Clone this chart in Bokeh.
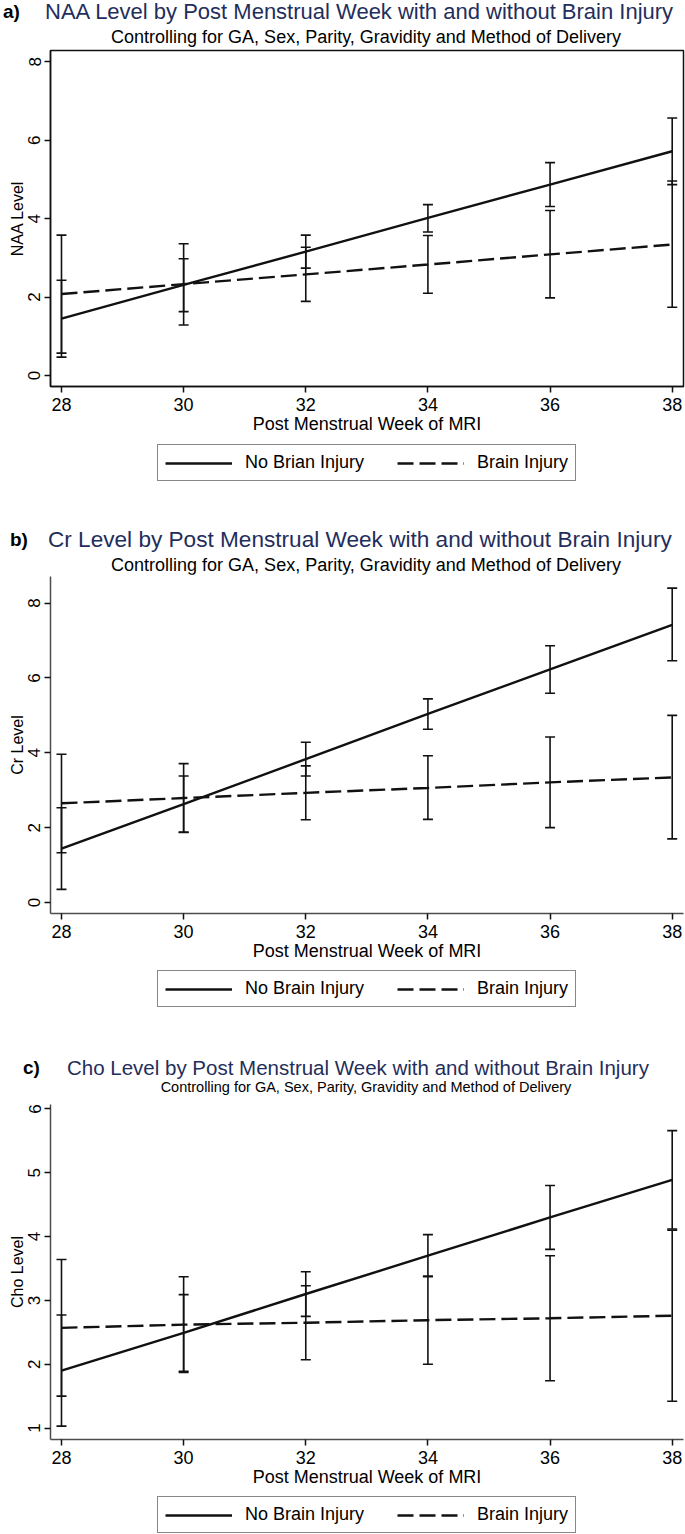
import math
from bokeh.plotting import figure
from bokeh.models import (ColumnDataSource, Whisker, TeeHead, Legend, LegendItem,
                          FixedTicker, Range1d, Div)
from bokeh.layouts import column
from bokeh.embed import file_html
from bokeh.resources import INLINE

# ---------------- data ----------------
weeks = [28, 30, 32, 34, 36, 38]
xticks = [28, 30, 32, 34, 36, 38]

# a) NAA
naa_no_mean = [1.45, 2.31, 3.16, 4.02, 4.87, 5.72]
naa_no_lo = [0.47, 1.63, 2.74, 3.66, 4.31, 4.87]
naa_no_hi = [2.43, 2.98, 3.58, 4.36, 5.43, 6.57]
naa_bi_mean = [2.08, 2.33, 2.58, 2.83, 3.09, 3.34]
naa_bi_lo = [0.57, 1.29, 1.89, 2.10, 1.98, 1.74]
naa_bi_hi = [3.58, 3.36, 3.27, 3.57, 4.21, 4.96]
naa_yticks = [0, 2, 4, 6, 8]

# b) Cr
cr_no_mean = [1.44, 2.63, 3.83, 5.04, 6.23, 7.42]
cr_no_lo = [0.35, 1.88, 3.38, 4.63, 5.59, 6.46]
cr_no_hi = [2.53, 3.38, 4.28, 5.44, 6.86, 8.40]
cr_bi_mean = [2.65, 2.79, 2.93, 3.06, 3.21, 3.34]
cr_bi_lo = [1.33, 1.87, 2.21, 2.22, 2.00, 1.70]
cr_bi_hi = [3.96, 3.71, 3.65, 3.92, 4.42, 5.00]
cr_yticks = [0, 2, 4, 6, 8]

# c) Cho
cho_no_mean = [1.90, 2.49, 3.10, 3.70, 4.30, 4.89]
cho_no_lo = [1.03, 1.89, 2.75, 3.37, 3.80, 4.12]
cho_no_hi = [2.77, 3.09, 3.45, 4.03, 4.80, 5.66]
cho_bi_mean = [2.57, 2.62, 2.65, 2.69, 2.72, 2.76]
cho_bi_lo = [1.50, 1.87, 2.07, 2.00, 1.74, 1.42]
cho_bi_hi = [3.64, 3.37, 3.23, 3.38, 3.70, 4.10]
cho_yticks = [1, 2, 3, 4, 5, 6]

subtitle_text = "Controlling for GA, Sex, Parity, Gravidity and Method of Delivery"
xlabel_text = "Post Menstrual Week of MRI"
legend_bi = "Brain Injury"

FONT = "Liberation Sans"
NAVY = "#1f2e5c"
INK = "#111111"
DASH = "16 6"
W = 685


def title_div(cfg):
    h = cfg["t_height"]
    ty = cfg["title_y"]
    sy = cfg["subtitle_y"]
    html = (
        f'<div style="position:relative;width:{W}px;height:{h}px;margin:0;padding:0;'
        f"font-family:'Liberation Sans',Arial,sans-serif;white-space:nowrap;\">"
        f'<span style="position:absolute;left:{cfg["letter_x"]}px;top:{ty - 12}px;'
        f'line-height:24px;font-size:19px;font-weight:bold;color:#000;">{cfg["letter"]}</span>'
        f'<span style="position:absolute;left:{cfg["title_x"]}px;top:{ty - 12}px;'
        f'line-height:24px;font-size:{cfg["title_size"]}px;color:{NAVY};">{cfg["title"]}</span>'
        f'<span style="position:absolute;left:16px;width:700px;text-align:center;top:{sy - 11}px;'
        f'line-height:22px;font-size:{cfg["subtitle_size"]}px;color:#000;">{subtitle_text}</span>'
        f'</div>'
    )
    return Div(text=html, width=W, height=h, margin=0)


def plot_fig(cfg):
    top = cfg["p_top"]
    fh = cfg["frame_h"]
    bottom = 52
    p = figure(width=W, height=top + fh + bottom, output_backend="svg", toolbar_location=None,
               x_range=Range1d(27.82, 38.185), y_range=Range1d(*cfg["y_range"]),
               min_border_left=50, min_border_right=2, min_border_top=top,
               min_border_bottom=bottom)
    p.title.text = ""
    p.background_fill_color = "white"
    p.border_fill_color = "white"
    p.xgrid.grid_line_color = None
    p.ygrid.grid_line_color = None
    if cfg["boxed"]:
        p.outline_line_color = INK
        p.outline_line_width = 1.5
        axis_col = INK
    else:
        p.outline_line_color = None
        axis_col = "#4d4d4d"

    p.xaxis.ticker = FixedTicker(ticks=xticks)
    p.yaxis.ticker = FixedTicker(ticks=cfg["yticks"])
    for ax in (p.xaxis[0], p.yaxis[0]):
        ax.axis_line_color = axis_col
        ax.axis_line_width = 1.5
        ax.major_tick_line_color = INK
        ax.major_tick_line_width = 1.5
        ax.major_tick_out = 6
        ax.major_tick_in = 0
        ax.minor_tick_line_color = None
        ax.major_label_text_font = FONT
        ax.major_label_text_color = "black"
        ax.axis_label_text_font = FONT
        ax.axis_label_text_font_style = "normal"
        ax.axis_label_text_color = "black"
        ax.axis_label_standoff = 0
    p.xaxis.major_label_text_font_size = "18px"
    p.xaxis.major_label_standoff = 5
    p.xaxis.axis_label = xlabel_text
    p.xaxis.axis_label_text_font_size = "18px"
    p.yaxis.major_label_text_font_size = "17px"
    p.yaxis.major_label_orientation = "vertical"
    p.yaxis.major_label_standoff = 4
    p.yaxis.axis_label = cfg["ylabel"]
    p.yaxis.axis_label_text_font_size = "16px"

    for lo, hi in ((cfg["no_lo"], cfg["no_hi"]), (cfg["bi_lo"], cfg["bi_hi"])):
        src = ColumnDataSource(dict(x=weeks, lo=lo, hi=hi))
        p.add_layout(Whisker(base="x", lower="lo", upper="hi", source=src,
                             line_color=INK, line_width=1.6,
                             upper_head=TeeHead(size=10, line_color=INK, line_width=1.6),
                             lower_head=TeeHead(size=10, line_color=INK, line_width=1.6)))

    p.line(weeks, cfg["no_mean"], line_color=INK, line_width=2.4)
    p.line(weeks, cfg["bi_mean"], line_color=INK, line_width=2.4, line_dash=DASH)
    return p


def legend_fig(cfg):
    h = cfg["l_height"]
    f = figure(width=W, height=h, output_backend="svg", toolbar_location=None,
               x_range=Range1d(0, 1), y_range=Range1d(0, 1),
               x_axis_location=None, y_axis_location=None,
               min_border_left=50, min_border_right=2, min_border_top=0, min_border_bottom=0)
    f.title.text = ""
    f.outline_line_color = None
    f.xgrid.grid_line_color = None
    f.ygrid.grid_line_color = None
    # sample renderers kept outside the visible range; only their legend swatches show
    r1 = f.line(x=[5, 6], y=[5, 6], line_color=INK, line_width=2.4)
    r2 = f.line(x=[5, 6], y=[5, 6], line_color=INK, line_width=2.4, line_dash=DASH)
    leg = Legend(items=[LegendItem(label=cfg["legend_no"], renderers=[r1]),
                        LegendItem(label=legend_bi, renderers=[r2])],
                 orientation="horizontal", location=(107, cfg["l_y"]),
                 border_line_color=INK, border_line_width=1.2,
                 background_fill_color="white", background_fill_alpha=1.0,
                 label_text_font=FONT, label_text_font_size="18px",
                 label_text_color="black",
                 glyph_width=67, glyph_height=20, label_standoff=13,
                 spacing=33, padding=7, margin=0)
    f.add_layout(leg)
    return f


def panel(cfg):
    return [title_div(cfg), plot_fig(cfg), legend_fig(cfg)]


cfg_a = dict(
    letter="a)", title="NAA Level by Post Menstrual Week with and without Brain Injury",
    title_size=22, subtitle_size=18, ylabel="NAA Level", legend_no="No Brian Injury",
    no_mean=naa_no_mean, no_lo=naa_no_lo, no_hi=naa_no_hi,
    bi_mean=naa_bi_mean, bi_lo=naa_bi_lo, bi_hi=naa_bi_hi,
    yticks=naa_yticks, y_range=(-0.28, 8.29), boxed=True,
    t_height=48, title_y=12, subtitle_y=37, letter_x=3, title_x=45,
    p_top=2, frame_h=336,
    l_height=82, l_y=39)

cfg_b = dict(
    letter="b)", title="Cr Level by Post Menstrual Week with and without Brain Injury",
    title_size=22.6, subtitle_size=18, ylabel="Cr Level", legend_no="No Brain Injury",
    no_mean=cr_no_mean, no_lo=cr_no_lo, no_hi=cr_no_hi,
    bi_mean=cr_bi_mean, bi_lo=cr_bi_lo, bi_hi=cr_bi_hi,
    yticks=cr_yticks, y_range=(-0.294, 8.71), boxed=False,
    t_height=54, title_y=20, subtitle_y=45, letter_x=10, title_x=48,
    p_top=2, frame_h=337,
    l_height=83, l_y=41)

cfg_c = dict(
    letter="c)", title="Cho Level by Post Menstrual Week with and without Brain Injury",
    title_size=20.5, subtitle_size=14.5, ylabel="Cho Level", legend_no="No Brain Injury",
    no_mean=cho_no_mean, no_lo=cho_no_lo, no_hi=cho_no_hi,
    bi_mean=cho_bi_mean, bi_lo=cho_bi_lo, bi_hi=cho_bi_hi,
    yticks=cho_yticks, y_range=(0.82, 6.07), boxed=False,
    t_height=52, title_y=20, subtitle_y=39, letter_x=23, title_x=67,
    p_top=4, frame_h=335,
    l_height=43, l_y=1)

layout = column(*panel(cfg_a), *panel(cfg_b), *panel(cfg_c), spacing=0)
open("out.html", "w").write(file_html(layout, INLINE))
